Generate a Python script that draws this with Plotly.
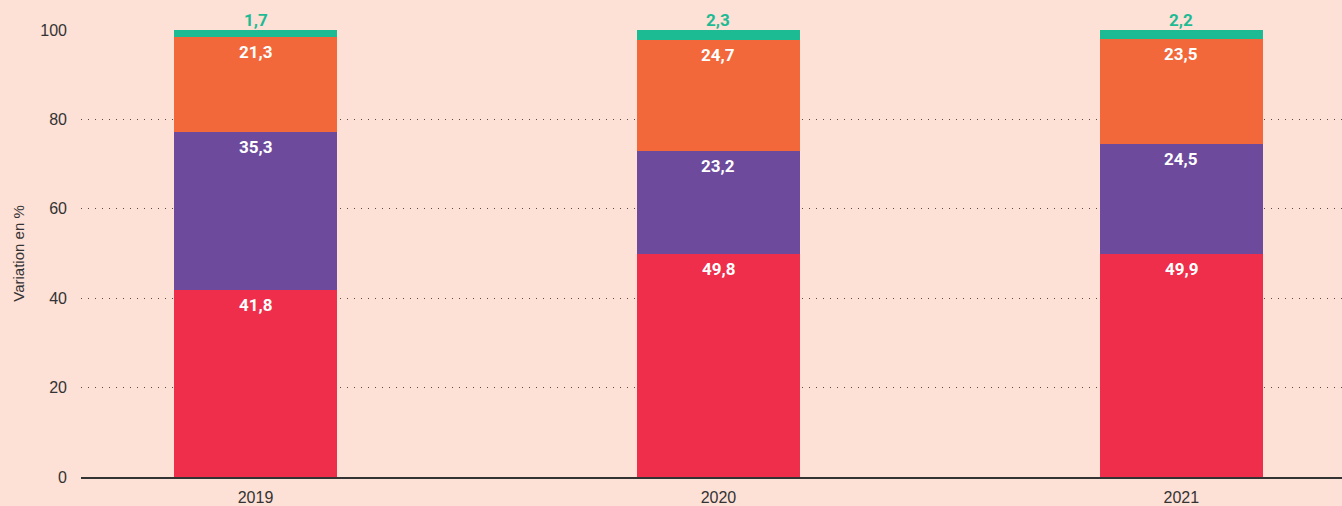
import plotly.graph_objects as go

# Données (en %)
years = ["2019", "2020", "2021"]
serie_rouge = [41.8, 49.8, 49.9]
serie_violette = [35.3, 23.2, 24.5]
serie_orange = [21.3, 24.7, 23.5]
serie_verte = [1.7, 2.3, 2.2]

y_ticks = [0, 20, 40, 60, 80, 100]

series = [
    ("Série 1", serie_rouge, "#EE2E4B"),
    ("Série 2", serie_violette, "#6D4A9C"),
    ("Série 3", serie_orange, "#F2683A"),
    ("Série 4", serie_verte, "#1DBB94"),
]


def fr(v):
    return f"{v:.1f}".replace(".", ",")


fig = go.Figure()
for name, vals, color in series:
    fig.add_trace(go.Bar(
        x=years, y=vals, name=name,
        marker=dict(color=color, line=dict(width=0)),
        width=0.352,
    ))

# étiquettes blanches en haut de chaque segment
for k, year in enumerate(years):
    base = 0
    for name, vals, color in series[:-1]:
        base += vals[k]
        fig.add_annotation(
            x=k, xref="x", y=base, yref="y", text="<b>" + fr(vals[k]) + "</b>",
            showarrow=False, yanchor="top", yshift=-3,
            font=dict(family="Roboto", size=17, color="white"),
        )
    # étiquette verte au-dessus de la barre
    fig.add_annotation(
        x=k, xref="x", y=1, yref="paper", text="<b>" + fr(serie_verte[k]) + "</b>",
        showarrow=False, yanchor="bottom", yshift=-2,
        font=dict(family="Roboto", size=17, color="#1DBB94"),
    )

fig.update_layout(
    barmode="stack",
    width=1342, height=506,
    margin=dict(l=81, r=0, t=30, b=27),
    paper_bgcolor="#FDE0D6",
    plot_bgcolor="#FDE0D6",
    showlegend=False,
    font=dict(family="Liberation Sans, Arial", size=16, color="#333333"),
    xaxis=dict(
        type="category",
        range=[-0.377, 2.347],
        showgrid=False,
        showline=True, linecolor="#333333", linewidth=1.5,
        ticks="", ticklabelstandoff=5,
        tickfont=dict(size=16, color="#333333"),
    ),
    yaxis=dict(
        range=[0, 100],
        tickvals=y_ticks,
        showgrid=True, gridcolor="#5a4a46", griddash="1px,6px", gridwidth=1,
        zeroline=False,
        ticks="", ticklabelstandoff=13,
        tickfont=dict(size=16, color="#333333"),
        title=dict(text="Variation en %", font=dict(size=15, color="#333333"), standoff=12),
    ),
)

fig.write_html("out.html", config={"displayModeBar": False},
               post_script="document.body.style.margin='0';")
